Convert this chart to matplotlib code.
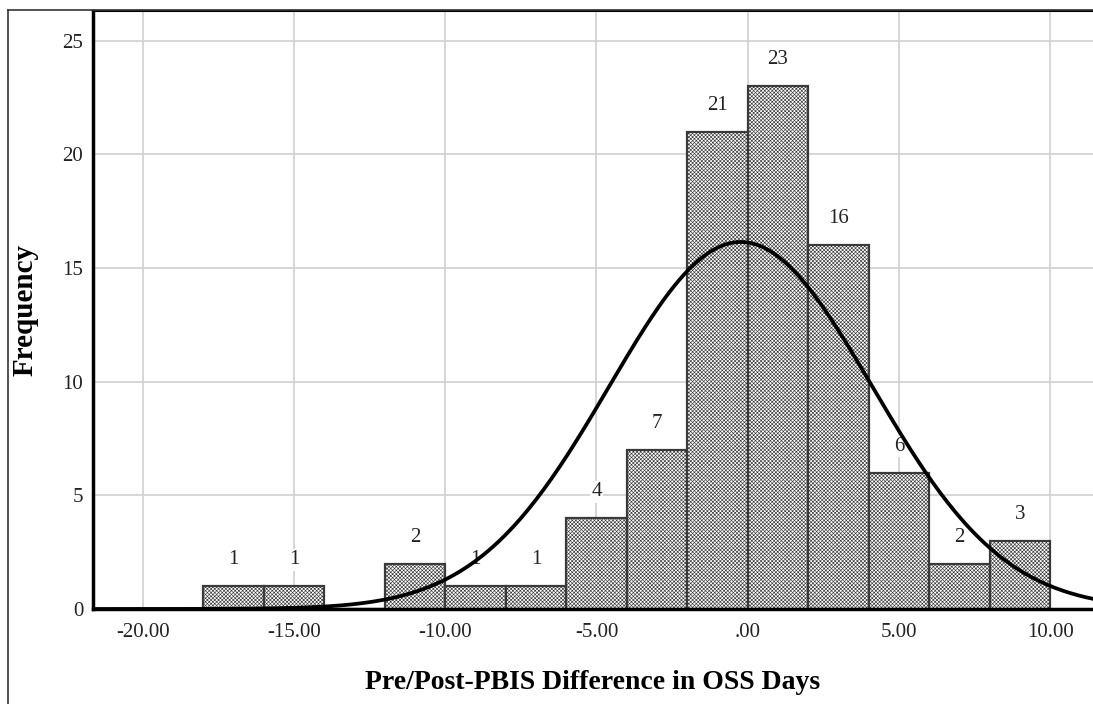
import numpy as np
import matplotlib.pyplot as plt
from matplotlib.lines import Line2D

# histogram bins (width 2) and counts
bin_left = [-18, -16, -14, -12, -10, -8, -6, -4, -2, 0, 2, 4, 6, 8]
counts = [1, 1, 0, 2, 1, 1, 4, 7, 21, 23, 16, 6, 2, 3]
bin_width = 2

# fitted normal curve parameters
fit_mean = -0.23
fit_std = 4.35
n_total = sum(counts)

xticks = [-20, -15, -10, -5, 0, 5, 10]
xtick_labels = ['-20.00', '-15.00', '-10.00', '-5.00', '.00', '5.00', '10.00']
yticks = [0, 5, 10, 15, 20, 25]

plt.rcParams['font.family'] = ['Liberation Serif', 'DejaVu Serif']
plt.rcParams['hatch.color'] = '#a0a0a0'
plt.rcParams['hatch.linewidth'] = 0.45

fig = plt.figure(figsize=(10.93, 7.04), dpi=100)
ax = fig.add_axes([93/1093, 95/704, 1000/1093, 598/704])

ax.bar(bin_left, counts, width=bin_width, align='edge', color='white',
       edgecolor='#3a3a3a', linewidth=1.6, hatch='xxxxxxxxx', zorder=2)

for x, c in zip(bin_left, counts):
    if c == 0:
        continue
    ax.annotate(str(c), (x + bin_width/2, c), xytext=(0, 19),
                textcoords='offset points', ha='center', va='center',
                fontsize=15, color='#222222', zorder=3,
                bbox=dict(facecolor='white', edgecolor='none', pad=1))

xs = np.linspace(-21.65, 11.42, 400)
pdf = np.exp(-0.5*((xs - fit_mean)/fit_std)**2) / (fit_std*np.sqrt(2*np.pi))
ax.plot(xs, pdf*n_total*bin_width, color='black', lw=2.7, zorder=4)

ax.set_xlim(-21.65, 11.42)
ax.set_ylim(0, 26.3)
ax.set_xticks(xticks)
ax.set_xticklabels(xtick_labels)
ax.set_yticks(yticks)
ax.tick_params(axis='x', length=0, labelsize=15, labelcolor='#222222', pad=10)
ax.tick_params(axis='y', length=0, labelsize=15, labelcolor='#222222', pad=7)
ax.grid(True, color='#d0d0d0', lw=1.2, zorder=0)
ax.set_axisbelow(True)

for s in ['left', 'bottom']:
    ax.spines[s].set_linewidth(2.5)
ax.spines['top'].set_linewidth(1.5)
ax.spines['right'].set_visible(False)

ax.set_xlabel('Pre/Post-PBIS Difference in OSS Days', fontsize=20,
              fontweight='bold', labelpad=20)
ax.set_ylabel('Frequency', fontsize=21, fontweight='bold', labelpad=17)

# outer frame of the exported chart
fig.add_artist(Line2D([8/1093, 8/1093], [0, 1 - 10/704], color='#333333', lw=1.2))
fig.add_artist(Line2D([8/1093, 1], [1 - 10/704, 1 - 10/704], color='#333333', lw=1.2))

fig.savefig('out.png', dpi=100)
